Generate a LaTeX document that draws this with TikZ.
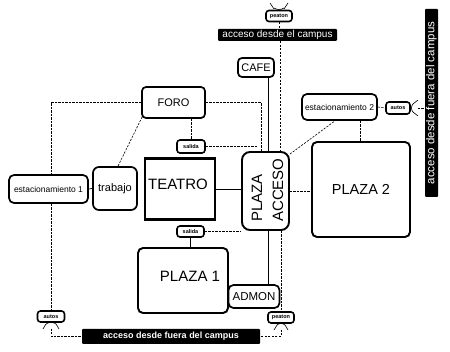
\documentclass[tikz,border=0pt]{standalone}
\usepackage{fontspec}
\setmainfont{Liberation Sans}
\usetikzlibrary{calc}
\begin{document}
\begin{tikzpicture}[x=1pt,y=-1pt,
  box/.style={draw, line width=1.7pt, rounded corners=4pt, inner sep=0pt},
  tinybox/.style={draw, line width=1.6pt, rounded corners=3pt, inner sep=0pt,
    minimum width=26pt, minimum height=11pt, font=\fontsize{5.5}{6}\selectfont\bfseries},
  blackbar/.style={fill=black, text=white, inner sep=0pt, rounded corners=1pt},
  bigbox/.style={draw, line width=1.9pt, rounded corners=5pt, inner sep=0pt},
  dsh/.style={line width=0.6pt, dash pattern=on 2.2pt off 1.3pt},
  sol/.style={line width=0.7pt},
  mk/.style={line width=0.6pt}]
\useasboundingbox (0,0) rectangle (450,352);

% nodes
\node[tinybox] (peT) at (279,16) {peaton};
\node[blackbar, minimum width=119pt, minimum height=12pt, font=\fontsize{10}{10}\selectfont] (barT) at (277.5,35) {acceso desde el campus};
\node[box, minimum width=36pt, minimum height=19pt, font=\fontsize{11}{11}\selectfont] (cafe) at (256,67.5) {CAFE};
\node[box, minimum width=63pt, minimum height=31pt, font=\fontsize{11}{11}\selectfont] (foro) at (173.5,102.5) {FORO};
\node[tinybox, minimum width=28pt, minimum height=13pt] (salT) at (191,146.5) {salida};
\node[box, rounded corners=5pt, minimum width=75pt, minimum height=26pt, font=\fontsize{8.5}{9}\selectfont] (est2) at (339.5,107) {estacionamiento 2};
\node[tinybox, minimum width=24pt, minimum height=12pt] (autR) at (398,108) {autos};
\node[blackbar, rotate=90, minimum width=188pt, minimum height=13pt, font=\fontsize{11.5}{11.5}\selectfont] (barR) at (431.5,103) {acceso desde fuera del campus};
\node[bigbox, minimum width=98pt, minimum height=95pt, font=\fontsize{14.5}{15}\selectfont] (pl2) at (361,189.5) {PLAZA 2};
\node[bigbox, rounded corners=8pt, minimum width=47pt, minimum height=78pt] (pa) at (265.5,191) {};
\node[rotate=90, anchor=west, inner sep=0pt, font=\fontsize{15}{15}\selectfont] (paA) at (257,222) {PLAZA};
\node[rotate=90, anchor=west, inner sep=0pt, font=\fontsize{15}{15}\selectfont] (paB) at (278,222) {ACCESO};
\node[draw, line width=2.9pt, inner sep=0pt, minimum width=70pt, minimum height=61pt] (teatro) at (180,189) {};
\node[inner sep=0pt, font=\fontsize{15}{15}\selectfont] (teatroT) at (178,184) {TEATRO};
\node[box, rounded corners=6pt, minimum width=44pt, minimum height=43pt, font=\fontsize{11}{11}\selectfont] (trab) at (115,188.5) {trabajo};
\node[box, rounded corners=5pt, minimum width=79pt, minimum height=28pt, font=\fontsize{8.5}{9}\selectfont] (est1) at (48.5,189) {estacionamiento 1};
\node[tinybox, minimum width=27pt, minimum height=11pt] (salB) at (190.5,231.5) {salida};
\node[bigbox, minimum width=90pt, minimum height=65pt] (pl1) at (183,280.5) {};
\node[inner sep=0pt, font=\fontsize{15}{15}\selectfont] (pl1T) at (190,276) {PLAZA 1};
\node[box, rounded corners=5pt, minimum width=51pt, minimum height=23pt, font=\fontsize{11.5}{12}\selectfont] (adm) at (254,296.5) {ADMON};
\node[tinybox, minimum width=26pt, minimum height=11pt] (peB) at (281,317.5) {peaton};
\node[tinybox, minimum width=27pt, minimum height=11pt] (autL) at (51,316.5) {autos};
\node[blackbar, minimum width=178pt, minimum height=15pt, font=\fontsize{9}{10}\selectfont\bfseries] (barB) at (171,336.5) {acceso desde fuera del campus};

% connectors
\draw[dsh] (peT.south) -- (peT.south |- barT.north);
\draw[dsh] ([xshift=14.5pt]pa.north |- barT.south) -- ([xshift=14.5pt]pa.north);
\draw[sol] ([xshift=2.5pt]pa.north |- cafe.south) -- ([xshift=2.5pt]pa.north);
\draw[dsh] (foro.east) -| ([xshift=-4.5pt]pa.north);
\draw[dsh] (foro.west) -| ([xshift=2.5pt]est1.north);
\draw[dsh] ([xshift=2.5pt]est1.south) -- ([xshift=2.5pt]est1.south |- autL.north);
\draw[dsh] ([yshift=-6pt]autL.south) |- (barB.west);
\draw[dsh] (foro.south -| salT.north) -- (salT.north);
\draw[dsh] (salT.east) -- ([xshift=-8.5pt]pa.north |- salT.east);
\draw[dsh] ([xshift=1pt,yshift=2pt]foro.south west) -- ([xshift=3pt]trab.north);
\draw[sol] (est1.east) -- (trab.west);
\draw[sol] (teatro.east) -- (teatro.east -| pa.west);
\draw[dsh] (pa.east) -- (pa.east -| pl2.west);
\draw[dsh] ([yshift=-3pt]pa.north east) -- ([xshift=-4.5pt]est2.south);
\draw[dsh] ([xshift=20.5pt]est2.south) -- ([xshift=20.5pt]est2.south |- pl2.north);
\draw[dsh] (est2.east) -- (autR.west);
\draw[dsh] ([xshift=7pt]autR.east) -- (barR.north |- autR.east);
\draw[dsh] (salB.east) -- (salB.east -| pa.west);
\draw[sol] (salB.south) -- (salB.south |- pl1.north);
\draw[sol] ([xshift=2.5pt]pa.south) -- ([xshift=2.5pt]pa.south |- adm.north);
\draw[dsh] (peB.north |- pa.south) -- (peB.north);
\draw[dsh] ([yshift=-6pt]peB.south) |- (barB.east);

% entry marks
\draw[mk] (270,3) -- (274,9) (288,3) -- (284,9);
\draw[mk] (274,8) .. controls (277,10) and (281,10) .. (284,8);
\draw[mk] (274,330) -- (277,325) (288,330) -- (285,325);
\draw[mk] (277,325) .. controls (279,323) and (283,323) .. (285,325);
\draw[mk] (43,329) -- (46,324) (59,329) -- (56,324);
\draw[mk] (46,324) .. controls (48,322) and (54,322) .. (56,324);
\draw[mk] (418,100) -- (413,104) (418,116) -- (413,112);
\draw[mk] (413,104) .. controls (411,106) and (411,110) .. (413,112);
\end{tikzpicture}
\end{document}
